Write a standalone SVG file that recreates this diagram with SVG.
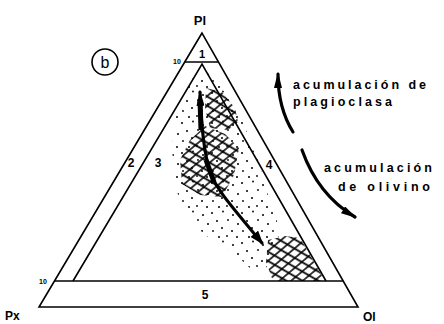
<svg xmlns="http://www.w3.org/2000/svg" width="444" height="324" viewBox="0 0 444 324">
<style>
.ln{fill:none;stroke:#000;stroke-width:1.6;stroke-linejoin:miter}
.lbl{font-family:"Liberation Sans",Arial,sans-serif;font-weight:bold;fill:#000}
.arr{fill:none;stroke:#000;stroke-width:3.2;stroke-linecap:round}
</style>
<defs>
<pattern id="dots" width="30" height="30" patternUnits="userSpaceOnUse">
<circle cx="2" cy="3" r="1"/><circle cx="13" cy="1.5" r="0.9"/><circle cx="23" cy="5" r="1"/>
<circle cx="7" cy="11" r="1"/><circle cx="18" cy="10" r="0.9"/><circle cx="28" cy="14" r="1"/>
<circle cx="3" cy="21" r="0.9"/><circle cx="12" cy="18" r="1"/><circle cx="22" cy="21" r="1"/>
<circle cx="9" cy="27" r="1"/><circle cx="17" cy="26" r="0.9"/><circle cx="27" cy="27" r="1"/>
</pattern>
<pattern id="hatch" width="8" height="8" patternUnits="userSpaceOnUse" patternTransform="rotate(30) skewX(-20)">
<path d="M0,4 H8 M4,0 V8" stroke="#000" stroke-width="1.6"/>
</pattern>
<marker id="ah" viewBox="0 0 14 10" refX="12" refY="5" markerWidth="14" markerHeight="10" markerUnits="userSpaceOnUse" orient="auto-start-reverse">
<path d="M0,0 L14,5 L0,10 Z" fill="#000"/>
</marker>
<marker id="ah2" viewBox="0 0 16 8" refX="14" refY="4" markerWidth="16" markerHeight="8" markerUnits="userSpaceOnUse" orient="auto-start-reverse">
<path d="M0,0 L16,4 L0,8 Z" fill="#000"/>
</marker>
</defs>

<g id="fields">
<polygon id="stipple" fill="url(#dots)" points="200,68 215,78 240,115 258,160 268,195 280,230 276,248 265,270 250,268 230,250 205,235 190,220 176,190 172,150 176,110 188,85"/>
<polygon id="hatch-top" fill="url(#hatch)" points="206,88 222,92 235,108 238,122 228,130 210,128 205,108"/>
<polygon id="hatch-mid" fill="url(#hatch)" points="190,140 205,126 225,134 239,148 234,175 222,197 200,195 182,184 180,160"/>
<polygon id="hatch-bot" fill="url(#hatch)" points="268,240 285,236 300,238 325,281 273,281 266,262"/>
</g>

<g id="triangle">
<polygon class="ln" points="202,33 39,307 358,307"/>
<line class="ln" x1="185" y1="62" x2="219" y2="62"/>
<polyline class="ln" points="73,281 202,64 326,281"/>
<line class="ln" x1="55" y1="281" x2="343" y2="281"/>
</g>

<g id="connectors">
<path class="arr" d="M200,92 C201,120 203,150 210,172 C216,188 226,200 262,243" marker-start="url(#ah2)" marker-end="url(#ah)"/>
<path d="M200,100 L201,130" stroke="#000" stroke-width="5" fill="none"/>
<path d="M206,160 L214,182" stroke="#000" stroke-width="5" fill="none"/>
<path class="arr" d="M293,132 Q278,108 278,74" marker-end="url(#ah2)"/>
<path class="arr" d="M302,150 Q318,195 355,217" marker-end="url(#ah2)"/>
</g>

<g id="labels">
<text class="lbl" x="200" y="25" font-size="13" text-anchor="middle">Pl</text>
<text class="lbl" x="202" y="58" font-size="11" text-anchor="middle">1</text>
<text class="lbl" x="177" y="64" font-size="7" text-anchor="middle">10</text>
<text class="lbl" x="43" y="284" font-size="7" text-anchor="middle">10</text>
<text class="lbl" x="131" y="167" font-size="12" text-anchor="middle">2</text>
<text class="lbl" x="158" y="167" font-size="12" text-anchor="middle">3</text>
<text class="lbl" x="269" y="169" font-size="12" text-anchor="middle">4</text>
<text class="lbl" x="205" y="299" font-size="12" text-anchor="middle">5</text>
<text class="lbl" x="5" y="320" font-size="12">Px</text>
<text class="lbl" x="363" y="321" font-size="12">Ol</text>
<circle cx="105" cy="62" r="13" fill="none" stroke="#000" stroke-width="1.6"/>
<text x="105" y="68" font-size="16" text-anchor="middle" style="font-family:'Liberation Sans',Arial,sans-serif">b</text>
<text class="lbl" x="293" y="89" font-size="12.5" textLength="133" lengthAdjust="spacing">acumulación de</text>
<text class="lbl" x="293" y="106" font-size="12.5" textLength="99" lengthAdjust="spacing">plagioclasa</text>
<text class="lbl" x="324" y="172" font-size="12.5" textLength="108" lengthAdjust="spacing">acumulación</text>
<text class="lbl" x="338" y="191" font-size="12.5" textLength="92" lengthAdjust="spacing">de olivino</text>
</g>
</svg>
